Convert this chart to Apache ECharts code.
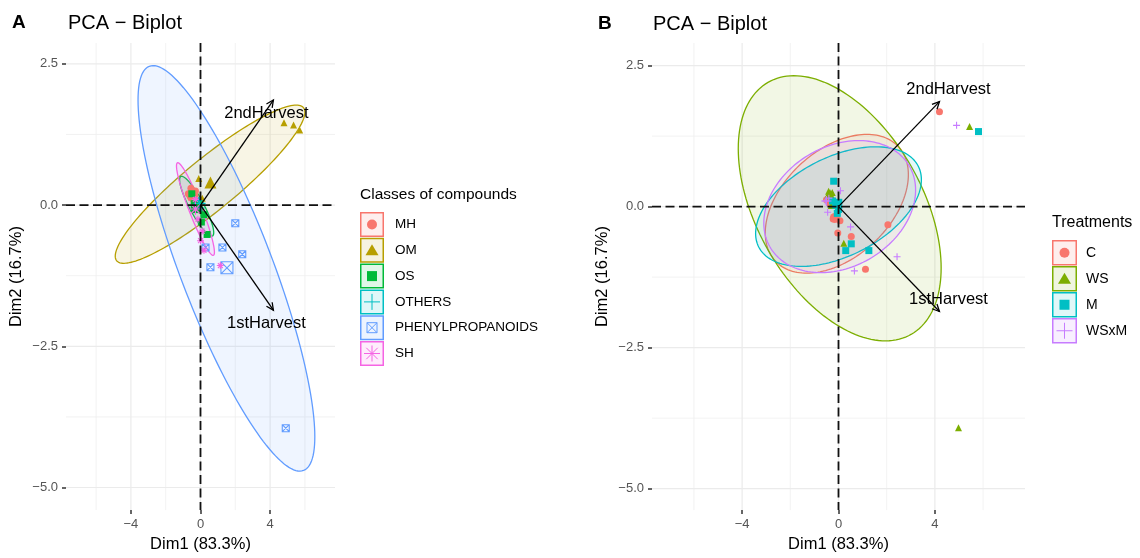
<!DOCTYPE html>
<html>
<head>
<meta charset="utf-8">
<title>PCA - Biplot</title>
<script src="https://cdn.jsdelivr.net/npm/echarts@6/dist/echarts.min.js"></script>
<style>
  html, body { margin: 0; padding: 0; background: #ffffff; }
  #chart { width: 1140px; height: 558px; }
</style>
</head>
<body>
<div id="chart"></div>
<script>
// ---------------- Panel A: compounds by class ----------------
const classNames = ['MH', 'OM', 'OS', 'OTHERS', 'PHENYLPROPANOIDS', 'SH'];
const classMH = [[-0.46, 0.12], [-0.29, 0.25], [-0.55, 0.3], [-0.2, 0.05], [-0.7, 0.2], [-0.35, -0.05]];
const classOM = [[4.8, 1.46], [5.35, 1.42], [5.7, 1.33], [-0.1, 0.47], [0.1, 0.12], [-0.2, 0.0]];
const classOS = [[0.19, -0.17], [0.38, -0.52], [-0.17, 0.0], [-0.29, -0.08], [-0.5, 0.2], [0.05, -0.3]];
const classOTHERS = [[-0.1, 0.08], [0.05, -0.05]];
const classPHENYL = [[2.0, -0.32], [1.26, -0.75], [2.4, -0.87], [0.29, -0.75], [0.57, -1.1], [4.9, -3.95]];
const classSH = [[1.14, -1.07], [0.1, -0.46], [0.0, -0.63], [-0.3, 0.1], [-0.15, -0.25], [0.2, -0.8]];
// group centres (drawn as the larger markers)
const classMeans = [[-0.46, 0.16], [0.57, 0.4], [-0.22, -0.02], [-0.05, 0.03], [1.52, -1.11], [-0.29, -0.07]];
// confidence ellipses: [centre x, centre y, half-range x, half-range y, correlation]
const ellipseOM = [0.55, 0.37, 5.45, 1.4, 0.91];
const ellipseOS = [-0.22, -0.02, 0.98, 0.53, -0.88];
const ellipsePHENYL = [1.49, -1.12, 5.08, 3.59, -0.83];
const ellipseSH = [-0.29, -0.07, 1.09, 0.82, -0.93];

// ---------------- Panel B: treatments ----------------
const treatNames = ['C', 'WS', 'M', 'WSxM'];
const treatC = [[4.19, 1.68], [2.05, -0.32], [0.53, -0.53], [1.12, -1.11], [-0.03, -0.47], [-0.22, -0.22], [0.06, -0.25], [-0.35, 0.05], [-0.5, 0.12], [-0.15, 0.02]];
const treatWS = [[5.44, 1.42], [4.98, -3.92], [0.22, -0.65], [-0.41, 0.27], [-0.26, 0.25], [-0.45, 0.2], [-0.1, 0.08], [-0.3, 0.02]];
const treatM = [[5.81, 1.33], [0.53, -0.66], [0.3, -0.78], [1.26, -0.78], [-0.2, 0.45], [-0.1, 0.05], [-0.25, 0.1], [0.0, -0.05], [-0.05, -0.12]];
const treatWSxM = [[4.9, 1.44], [0.5, -0.36], [2.43, -0.89], [0.66, -1.14], [0.08, 0.28], [-0.55, 0.1], [-0.4, 0.15], [-0.45, -0.1]];
const treatMeans = [[-0.15, -0.2], [-0.35, 0.22], [-0.05, 0.05], [-0.5, 0.1]];
const ellipseC = [-0.07, 0.05, 2.97, 1.23, 0.42];
const ellipseWS = [0.05, -0.03, 4.21, 2.35, -0.45];
const ellipseM = [0.0, 0.0, 3.44, 1.06, 0.45];
const ellipseWSxM = [0.05, 0.0, 3.15, 1.17, 0.25];

// ---------------- Variables (arrows) ----------------
const varNames = ['1stHarvest', '2ndHarvest'];
const varCoords = [[4.19, -1.86], [4.19, 1.86]];

// ---------------- Axis breaks ----------------
const xTicks = [-4, 0, 4];
const xMinor = [-6, -2, 2, 6];
const yTicks = [-5, -2.5, 0, 2.5];
const yMinor = [-3.75, -1.25, 1.25];

// ---------------- Styling ----------------
const FONT = '"Liberation Sans", Arial, Helvetica, sans-serif';
const classColors = ['#F8766D', '#B79F00', '#00BA38', '#00BFC4', '#619CFF', '#F564E3'];
const classShapes = ['circle', 'triangle', 'square', 'plus', 'boxx', 'star'];
const treatColors = ['#F8766D', '#7CAE00', '#00BFC4', '#C77CFF'];
const treatShapes = ['circle', 'triangle', 'square', 'plus'];

const symbolPaths = {
  circle: 'circle',
  triangle: 'triangle',
  square: 'rect',
  plus: 'path://M5 0L5 10M0 5L10 5',
  boxx: 'path://M0 0L10 0L10 10L0 10ZM0 0L10 10M10 0L0 10',
  star: 'path://M5 0L5 10M0 5L10 5M1.5 1.5L8.5 8.5M8.5 1.5L1.5 8.5'
};
const strokedShapes = { plus: true, boxx: true, star: true };

function rgba(hex, a) {
  const n = parseInt(hex.slice(1), 16);
  return 'rgba(' + ((n >> 16) & 255) + ',' + ((n >> 8) & 255) + ',' + (n & 255) + ',' + a + ')';
}
function fmtX(v) { return v < 0 ? '\u2212' + Math.abs(v) : String(v); }
function fmtY(v) { const s = Math.abs(v).toFixed(1); return v < 0 ? '\u2212' + s : s; }

function xAxisFor(gi, min, max, gap, labelMargin) {
  return {
    type: 'value', gridIndex: gi, min: min, max: max,
    name: 'Dim1 (83.3%)', nameLocation: 'middle', nameGap: gap,
    nameTextStyle: { fontFamily: FONT, fontSize: 16.5, color: '#000' },
    axisLine: { show: false, onZero: false },
    splitLine: { show: false },
    axisTick: { show: true, length: 4, customValues: xTicks, lineStyle: { color: '#333', width: 1.5 } },
    axisLabel: { customValues: xTicks, formatter: fmtX, margin: labelMargin, color: '#555', fontSize: 13, fontFamily: FONT }
  };
}
function yAxisFor(gi, min, max) {
  return {
    type: 'value', gridIndex: gi, min: min, max: max,
    name: 'Dim2 (16.7%)', nameLocation: 'middle', nameGap: 41,
    nameTextStyle: { fontFamily: FONT, fontSize: 16.5, color: '#000' },
    axisLine: { show: false, onZero: false },
    splitLine: { show: false },
    axisTick: { show: true, length: 4, customValues: yTicks, lineStyle: { color: '#333', width: 1.5 } },
    axisLabel: { customValues: yTicks, formatter: fmtY, margin: 8, color: '#555', fontSize: 13, fontFamily: FONT }
  };
}

// straight rules across a grid at axis values (grid lines and the dashed zero lines)
function ruleSeries(gi, vals, vertical, style, z) {
  return {
    type: 'custom', xAxisIndex: gi, yAxisIndex: gi, silent: true, z: z, clip: false,
    data: vals.map(function (v) { return vertical ? [v, 0] : [0, v]; }),
    renderItem: function (params, api) {
      const cs = params.coordSys;
      const p = api.coord([api.value(0), api.value(1)]);
      const shape = vertical
        ? { x1: p[0], y1: cs.y, x2: p[0], y2: cs.y + cs.height }
        : { x1: cs.x, y1: p[1], x2: cs.x + cs.width, y2: p[1] };
      return { type: 'line', shape: shape, style: style };
    }
  };
}

function ellipseSeries(gi, ell, color) {
  return {
    type: 'custom', xAxisIndex: gi, yAxisIndex: gi, silent: true, z: 1, clip: true,
    data: [ell],
    renderItem: function (params, api) {
      const cx = api.value(0), cy = api.value(1), sx = api.value(2), sy = api.value(3), r = api.value(4);
      const q = Math.sqrt(1 - r * r);
      const pts = [];
      const n = 160;
      for (let k = 0; k < n; k++) {
        const t = 2 * Math.PI * k / n;
        pts.push(api.coord([cx + sx * Math.cos(t), cy + sy * (r * Math.cos(t) + q * Math.sin(t))]));
      }
      return { type: 'polygon', shape: { points: pts }, style: { fill: rgba(color, 0.1), stroke: color, lineWidth: 1.3 } };
    }
  };
}

function groupSeries(gi, name, pts, mean, shape, color, size, meanSize) {
  const data = pts.map(function (p) { return { value: p }; });
  data.push({ value: mean, symbolSize: meanSize });
  const stroked = !!strokedShapes[shape];
  return {
    type: 'scatter', name: name, xAxisIndex: gi, yAxisIndex: gi, silent: true, z: 2,
    symbol: symbolPaths[shape], symbolSize: size,
    itemStyle: stroked
      ? { color: 'rgba(0,0,0,0)', borderColor: color, borderWidth: 1.1, opacity: 1 }
      : { color: color, opacity: 1 },
    data: data
  };
}

function arrowSeries(gi, dx, dy) {
  return {
    type: 'custom', xAxisIndex: gi, yAxisIndex: gi, silent: true, z: 6, clip: false,
    data: varCoords,
    renderItem: function (params, api) {
      const o = api.coord([0, 0]);
      const p = api.coord([api.value(0), api.value(1)]);
      const ang = Math.atan2(p[1] - o[1], p[0] - o[0]);
      const L = 8, a = Math.PI / 7;
      const h1 = [p[0] - L * Math.cos(ang - a), p[1] - L * Math.sin(ang - a)];
      const h2 = [p[0] - L * Math.cos(ang + a), p[1] - L * Math.sin(ang + a)];
      return {
        type: 'group',
        children: [
          { type: 'line', shape: { x1: o[0], y1: o[1], x2: p[0], y2: p[1] }, style: { stroke: '#000', lineWidth: 1.3 } },
          { type: 'polyline', shape: { points: [h1, p, h2] }, style: { stroke: '#000', lineWidth: 1.3, fill: null } },
          { type: 'text', x: p[0] + dx, y: p[1] + dy,
            style: { text: varNames[params.dataIndex], fill: '#000', fontSize: 16.5, fontFamily: FONT, align: 'center', verticalAlign: 'middle' } }
        ]
      };
    }
  };
}

function panelSeries(gi, groups, ells, colors, shapes, means, size, meanSize, labelDx, labelDy) {
  const out = [];
  const major = { stroke: '#EBEBEB', lineWidth: 1.2 };
  const minor = { stroke: '#EFEFEF', lineWidth: 0.8 };
  out.push(ruleSeries(gi, xMinor, true, minor, 0));
  out.push(ruleSeries(gi, yMinor, false, minor, 0));
  out.push(ruleSeries(gi, xTicks, true, major, 0));
  out.push(ruleSeries(gi, yTicks, false, major, 0));
  ells.forEach(function (e, i) { if (e) out.push(ellipseSeries(gi, e, colors[i])); });
  groups.forEach(function (g, i) {
    out.push(groupSeries(gi, (gi === 0 ? classNames : treatNames)[i], g, means[i], shapes[i], colors[i], size, meanSize));
  });
  const dash = { stroke: '#111', lineWidth: 1.8, lineDash: [9, 4.5] };
  out.push(ruleSeries(gi, [0], true, dash, 4));
  out.push(ruleSeries(gi, [0], false, dash, 4));
  out.push(arrowSeries(gi, labelDx, labelDy));
  return out;
}

// ---------------- Legend boxes (drawn as graphics) ----------------
function seg(x1, y1, x2, y2, color) {
  return { type: 'line', shape: { x1: x1, y1: y1, x2: x2, y2: y2 }, style: { stroke: color, lineWidth: 1 } };
}
function keyMarker(shape, cx, cy, color) {
  switch (shape) {
    case 'circle':
      return [{ type: 'circle', shape: { cx: cx, cy: cy, r: 5 }, style: { fill: color } }];
    case 'triangle':
      return [{ type: 'polygon', shape: { points: [[cx, cy - 6], [cx + 6.5, cy + 5], [cx - 6.5, cy + 5]] }, style: { fill: color } }];
    case 'square':
      return [{ type: 'rect', shape: { x: cx - 5, y: cy - 5, width: 10, height: 10 }, style: { fill: color } }];
    case 'plus':
      return [seg(cx, cy - 8, cx, cy + 8, color), seg(cx - 8, cy, cx + 8, cy, color)];
    case 'boxx':
      return [{ type: 'rect', shape: { x: cx - 5, y: cy - 5, width: 10, height: 10 }, style: { fill: null, stroke: color, lineWidth: 1 } },
              seg(cx - 5, cy - 5, cx + 5, cy + 5, color), seg(cx + 5, cy - 5, cx - 5, cy + 5, color)];
    case 'star':
      return [seg(cx, cy - 8, cx, cy + 8, color), seg(cx - 8, cy, cx + 8, cy, color),
              seg(cx - 5.7, cy - 5.7, cx + 5.7, cy + 5.7, color), seg(cx + 5.7, cy - 5.7, cx - 5.7, cy + 5.7, color)];
  }
  return [];
}

function legendGraphics(title, x, titleY, names, colors, shapes, keyTop, step, keyW, keyH, textX, titleSize, labelSize) {
  let els = [{ type: 'text', x: x, y: titleY, style: { text: title, fill: '#000', fontSize: titleSize, fontFamily: FONT, verticalAlign: 'middle' } }];
  names.forEach(function (nm, i) {
    const top = keyTop + i * step;
    els.push({ type: 'rect', shape: { x: x + 0.75, y: top + 0.75, width: keyW - 1.5, height: keyH - 1.5 },
               style: { fill: rgba(colors[i], 0.12), stroke: colors[i], lineWidth: 1.5 } });
    els = els.concat(keyMarker(shapes[i], x + keyW / 2, top + keyH / 2, colors[i]));
    els.push({ type: 'text', x: textX, y: top + keyH / 2, style: { text: nm, fill: '#000', fontSize: labelSize, fontFamily: FONT, verticalAlign: 'middle' } });
  });
  return els;
}

const titleEls = [
  { type: 'text', x: 12, y: 23, style: { text: 'A', fill: '#000', fontSize: 19, fontWeight: 'bold', fontFamily: FONT, verticalAlign: 'middle' } },
  { type: 'text', x: 68, y: 23, style: { text: 'PCA \u2212 Biplot', fill: '#000', fontSize: 20, fontFamily: FONT, verticalAlign: 'middle' } },
  { type: 'text', x: 598, y: 24, style: { text: 'B', fill: '#000', fontSize: 19, fontWeight: 'bold', fontFamily: FONT, verticalAlign: 'middle' } },
  { type: 'text', x: 653, y: 24, style: { text: 'PCA \u2212 Biplot', fill: '#000', fontSize: 20, fontFamily: FONT, verticalAlign: 'middle' } }
];

const chart = echarts.init(document.getElementById('chart'), null, { renderer: 'canvas' });
chart.setOption({
  animation: false,
  backgroundColor: '#ffffff',
  grid: [
    { left: 66, top: 43, width: 269, height: 471 },
    { left: 652, top: 43, width: 373, height: 473 }
  ],
  xAxis: [xAxisFor(0, -7.73, 7.73, 23, 8), xAxisFor(1, -7.74, 7.74, 24, 8)],
  yAxis: [yAxisFor(0, -5.40, 2.87), yAxisFor(1, -5.38, 2.90)],
  series: [].concat(
    panelSeries(0,
      [classMH, classOM, classOS, classOTHERS, classPHENYL, classSH],
      [null, ellipseOM, ellipseOS, null, ellipsePHENYL, ellipseSH],
      classColors, classShapes, classMeans, 7, 12, -7, 13),
    panelSeries(1,
      [treatC, treatWS, treatM, treatWSxM],
      [ellipseC, ellipseWS, ellipseM, ellipseWSxM],
      treatColors, treatShapes, treatMeans, 7, 10, 9, -12)
  ),
  graphic: titleEls
    .concat(legendGraphics('Classes of compounds', 360, 195, classNames, classColors, classShapes, 212, 25.8, 24, 25, 395, 15.5, 13.5))
    .concat(legendGraphics('Treatments', 1052, 223, treatNames, treatColors, treatShapes, 240, 26, 25, 25.5, 1086, 16, 14))
});
</script>
</body>
</html>
